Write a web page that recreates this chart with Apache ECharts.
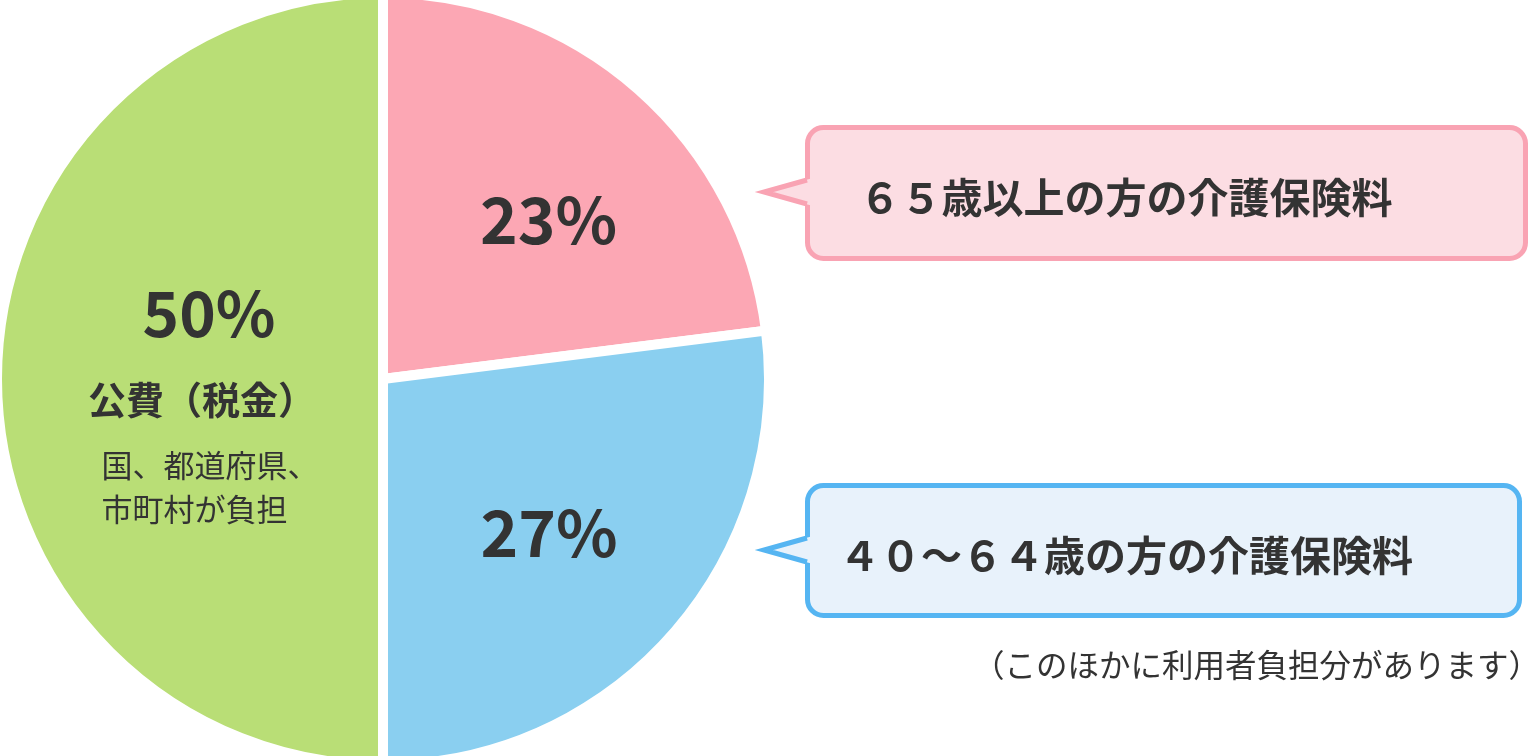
<!DOCTYPE html>
<html>
<head>
<meta charset="utf-8">
<style>
  html, body { margin: 0; padding: 0; background: #ffffff; }
  #chart { width: 1538px; height: 756px; }
</style>
<script src="https://cdn.jsdelivr.net/npm/echarts@6/dist/echarts.min.js"></script>
</head>
<body>
<div id="chart"></div>
<script>
const categories = ['６５歳以上の方の介護保険料', '４０～６４歳の方の介護保険料', '公費（税金）'];
const values = [23, 27, 50];
const pctLabels = ['23%', '27%', '50%'];
const greenSub = ['国、都道府県、', '市町村が負担'];
const footnote = '（このほかに利用者負担分があります）';

const colors = ['#fca7b4', '#8acff0', '#b9de76'];
const FONT = '"Noto Sans CJK JP", "Noto Sans", sans-serif';
const TXT = '#333333';

const chart = echarts.init(document.getElementById('chart'));

const labelOffsets = [[36, -12], [19, 24], [15, 21]];

const data = values.map((v, i) => {
  const item = {
    name: categories[i],
    value: v,
    itemStyle: { color: colors[i] },
    label: { offset: labelOffsets[i] }
  };
  if (i === 2) {
    item.label.formatter = '{pct|' + pctLabels[i] + '}\n{title|' + categories[i] + '}\n{sub|' + greenSub[0] + '}\n{sub|' + greenSub[1] + '}';
  } else {
    item.label.formatter = '{big|' + pctLabels[i] + '}';
  }
  return item;
});

function callout(y0, h, w, tipY, stroke, fill, text) {
  const x0 = 807.5;
  return [
    { type: 'rect', silent: true, shape: { x: x0, y: y0, width: w, height: h, r: 16 },
      style: { fill: fill, stroke: stroke, lineWidth: 5 } },
    { type: 'polygon', silent: true, shape: { points: [[813, tipY - 14], [762, tipY], [813, tipY + 14]] },
      style: { fill: fill } },
    { type: 'polyline', silent: true, shape: { points: [[807, tipY - 12], [764, tipY], [807, tipY + 12]] },
      style: { fill: null, stroke: stroke, lineWidth: 5, lineJoin: 'miter' } },
    { type: 'text', silent: true, x: 1126, y: tipY + 5,
      style: { text: text, fill: TXT, font: 'bold 41px ' + FONT, textAlign: 'center', textVerticalAlign: 'middle' } }
  ];
}

const option = {
  backgroundColor: '#ffffff',
  animation: false,
  series: [{
    type: 'pie',
    center: [383, 379],
    radius: [0, 386],
    startAngle: 90,
    clockwise: true,
    silent: true,
    emphasis: { disabled: true },
    itemStyle: { borderColor: '#ffffff', borderWidth: 10 },
    labelLine: { show: false },
    label: {
      show: true,
      position: 'inside',
      color: TXT,
      fontFamily: FONT,
      rich: {
        big: { fontSize: 64, fontWeight: 'bold', color: TXT, fontFamily: FONT },
        pct: { fontSize: 62, fontWeight: 'bold', color: TXT, fontFamily: FONT, lineHeight: 88, padding: [0, 0, 0, 14] },
        title: { fontSize: 38, fontWeight: 'bold', color: TXT, fontFamily: FONT, lineHeight: 86 },
        sub: { fontSize: 31, color: TXT, fontFamily: FONT, lineHeight: 44, align: 'left', padding: [0, 0, 0, 16] }
      }
    },
    data: data
  }],
  graphic: [
    ...callout(127.5, 131, 718, 192, '#f9a3b3', '#fcdde3', categories[0]),
    ...callout(485.5, 130, 712, 550, '#55b5f2', '#e8f2fb', categories[1]),
    { type: 'text', silent: true, x: 1540, y: 665,
      style: { text: footnote, fill: TXT, font: '31.5px ' + FONT, textAlign: 'right', textVerticalAlign: 'middle' } }
  ]
};

chart.setOption(option);
</script>
</body>
</html>
